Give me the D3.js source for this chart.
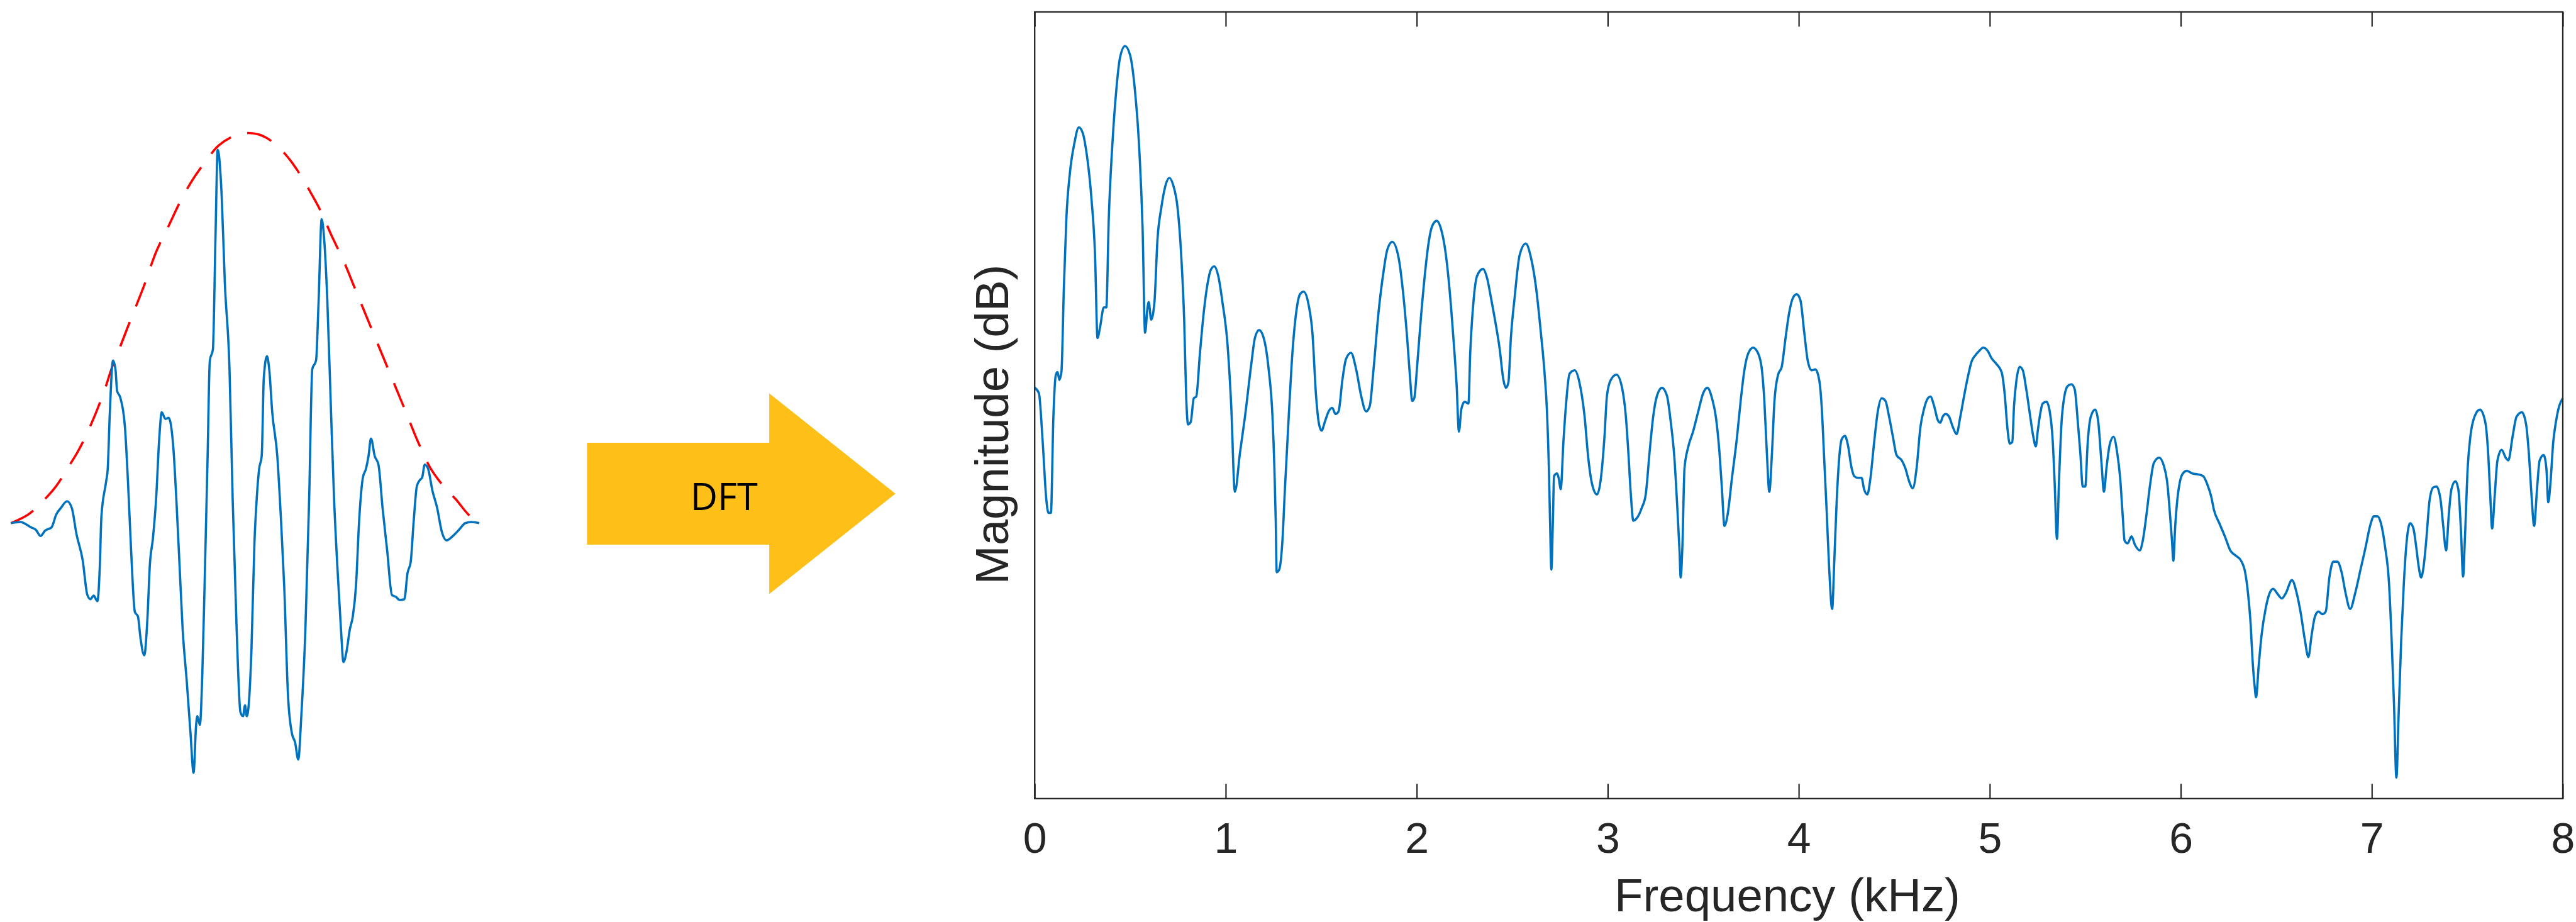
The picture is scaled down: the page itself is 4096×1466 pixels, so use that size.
<!DOCTYPE html>
<html>
<head>
<meta charset="utf-8">
<script src="https://cdn.jsdelivr.net/npm/d3@7"></script>
<style>
  html, body { margin: 0; padding: 0; background: #ffffff; }
  svg { display: block; }
</style>
</head>
<body>
<svg id="fig" width="4096" height="1466"></svg>
<script>
// ---- Windowed speech frame (time domain), 400 samples ----
const waveSample = [0, 8.0, 17.3, 21.3, 25.3, 29.3, 34.7, 38.7, 42.7, 48.0, 52.0, 56.0, 61.3, 65.3, 68.0, 70.7, 73.9, 76.0, 77.3, 81.3,
  82.7, 84.5, 87.2, 89.3, 90.7, 93.3, 97.3, 100.0, 102.7, 105.9, 108.5, 110.7, 113.9, 116.5, 118.7, 121.3, 124.0, 126.7, 128.8, 132.0,
  134.7, 138.7, 141.3, 144.0, 146.7, 150.2, 153.4, 156.0, 158.2, 159.2, 161.4, 163.5, 165.4, 168.0, 169.9, 172.5, 174.7, 176.6, 180.0, 182.7,
  186.7, 189.4, 192.8, 196.0, 198.2, 200.0, 201.4, 203.2, 205.4, 208.0, 209.9, 212.0, 214.2, 216.0, 218.7, 220.6, 223.2, 227.5, 230.7, 233.4,
  236.6, 240.0, 242.7, 245.4, 248.0, 251.5, 254.7, 257.4, 260.6, 262.7, 265.4, 267.5, 270.2, 273.4, 276.0, 278.7, 281.9, 284.0, 286.7, 289.4,
  292.0, 294.7, 297.4, 300.6, 303.2, 305.4, 307.5, 310.7, 313.9, 317.4, 321.4, 325.4, 328.8, 332.0, 336.0, 338.7, 341.4, 344.0, 346.7, 349.4,
  351.2, 353.4, 356.1, 360.0, 364.0, 368.0, 372.0, 377.4, 382.7, 388.1, 393.4, 400.0];
const waveAmp = [0, 0.003, -0.011, -0.017, -0.033, -0.019, -0.011, 0.022, 0.039, 0.056, 0.039, -0.028, -0.095, -0.184, -0.195, -0.186, -0.200, -0.106, 0.017, 0.106,
  0.139, 0.284, 0.417, 0.395, 0.339, 0.323, 0.250, 0.106, -0.072, -0.228, -0.239, -0.295, -0.339, -0.250, -0.106, -0.039, 0.061, 0.217, 0.284, 0.267,
  0.270, 0.195, 0.061, -0.106, -0.273, -0.406, -0.539, -0.640, -0.517, -0.495, -0.517, -0.384, -0.161, 0.172, 0.417, 0.445, 0.729, 0.957, 0.840, 0.617,
  0.395, 0.061, -0.273, -0.484, -0.495, -0.467, -0.495, -0.462, -0.328, -0.050, 0.061, 0.139, 0.172, 0.373, 0.428, 0.395, 0.284, 0.172, 0.006, -0.161,
  -0.439, -0.539, -0.562, -0.606, -0.495, -0.273, 0.061, 0.395, 0.417, 0.562, 0.779, 0.729, 0.573, 0.284, 0.061, -0.106, -0.273, -0.356, -0.328, -0.273,
  -0.239, -0.161, 0.006, 0.117, 0.139, 0.172, 0.217, 0.172, 0.150, 0.039, -0.072, -0.184, -0.189, -0.197, -0.195, -0.128, -0.100, 0.006, 0.095, 0.111,
  0.117, 0.150, 0.141, 0.083, 0.039, -0.022, -0.044, -0.033, -0.017, 0, 0.003, 0];

// ---- Analysis window envelope ----
const windowSample = [0, 14.7, 25.3, 38.7, 48.0, 57.3, 68.0, 78.7, 86.7, 92.0, 102.7, 113.4, 124.0, 134.7, 145.4, 156.0, 166.7, 177.4, 190.7, 201.4,
  212.0, 222.7, 236.0, 246.7, 257.4, 265.4, 273.4, 284.0, 294.7, 305.4, 316.1, 326.7, 337.4, 348.0, 358.7, 369.4, 380.0, 390.7, 400.0];
const windowAmp = [0, 0.022, 0.050, 0.095, 0.139, 0.184, 0.250, 0.330, 0.402, 0.442, 0.525, 0.606, 0.695, 0.762, 0.829, 0.884, 0.929, 0.968, 0.993, 1.0,
  0.996, 0.979, 0.940, 0.895, 0.840, 0.795, 0.740, 0.673, 0.595, 0.517, 0.439, 0.362, 0.284, 0.206, 0.139, 0.095, 0.061, 0.022, 0];

// ---- Magnitude spectrum ----
const freqKHz = [0.000, 0.022, 0.042, 0.061, 0.072, 0.085, 0.098, 0.111, 0.120, 0.129, 0.140, 0.153, 0.166, 0.185, 0.208, 0.231, 0.251, 0.270, 0.297, 0.316,
  0.329, 0.342, 0.362, 0.375, 0.388, 0.408, 0.427, 0.447, 0.473, 0.499, 0.525, 0.545, 0.565, 0.578, 0.591, 0.597, 0.610, 0.627, 0.643, 0.663,
  0.682, 0.705, 0.725, 0.748, 0.767, 0.783, 0.793, 0.803, 0.817, 0.833, 0.846, 0.865, 0.885, 0.905, 0.922, 0.940, 0.961, 0.983, 1.009, 1.029,
  1.048, 1.075, 1.101, 1.134, 1.153, 1.175, 1.199, 1.225, 1.245, 1.255, 1.262, 1.267, 1.280, 1.297, 1.310, 1.330, 1.349, 1.369, 1.389, 1.408,
  1.434, 1.454, 1.473, 1.489, 1.502, 1.519, 1.539, 1.558, 1.575, 1.591, 1.611, 1.630, 1.656, 1.683, 1.709, 1.735, 1.754, 1.774, 1.800, 1.827,
  1.846, 1.872, 1.905, 1.931, 1.950, 1.966, 1.976, 1.987, 2.003, 2.022, 2.042, 2.061, 2.081, 2.105, 2.127, 2.149, 2.173, 2.192, 2.209, 2.221,
  2.234, 2.251, 2.271, 2.280, 2.297, 2.316, 2.347, 2.369, 2.388, 2.408, 2.434, 2.454, 2.467, 2.480, 2.493, 2.513, 2.539, 2.571, 2.598, 2.624,
  2.650, 2.670, 2.682, 2.692, 2.698, 2.705, 2.713, 2.719, 2.735, 2.744, 2.754, 2.768, 2.781, 2.800, 2.827, 2.852, 2.879, 2.898, 2.918, 2.944,
  2.964, 2.983, 2.996, 3.016, 3.046, 3.075, 3.095, 3.108, 3.121, 3.134, 3.153, 3.179, 3.199, 3.219, 3.238, 3.258, 3.284, 3.310, 3.330, 3.349,
  3.365, 3.376, 3.382, 3.391, 3.402, 3.421, 3.447, 3.474, 3.500, 3.522, 3.546, 3.566, 3.585, 3.598, 3.611, 3.627, 3.650, 3.677, 3.696, 3.716,
  3.735, 3.761, 3.788, 3.807, 3.820, 3.833, 3.846, 3.860, 3.873, 3.892, 3.911, 3.931, 3.950, 3.970, 3.989, 4.009, 4.029, 4.048, 4.068, 4.087,
  4.107, 4.120, 4.133, 4.146, 4.159, 4.175, 4.186, 4.199, 4.212, 4.225, 4.242, 4.257, 4.277, 4.290, 4.310, 4.329, 4.342, 4.359, 4.375, 4.395,
  4.414, 4.434, 4.454, 4.473, 4.493, 4.512, 4.539, 4.558, 4.578, 4.597, 4.617, 4.637, 4.656, 4.676, 4.689, 4.709, 4.728, 4.741, 4.754, 4.770,
  4.787, 4.807, 4.826, 4.846, 4.866, 4.885, 4.905, 4.924, 4.944, 4.966, 4.990, 5.009, 5.036, 5.062, 5.079, 5.092, 5.105, 5.118, 5.127, 5.140,
  5.157, 5.173, 5.192, 5.212, 5.228, 5.241, 5.251, 5.264, 5.277, 5.297, 5.314, 5.330, 5.340, 5.352, 5.362, 5.376, 5.389, 5.408, 5.428, 5.445,
  5.461, 5.474, 5.487, 5.500, 5.513, 5.529, 5.552, 5.568, 5.585, 5.598, 5.611, 5.628, 5.648, 5.667, 5.683, 5.696, 5.706, 5.722, 5.742, 5.761,
  5.785, 5.801, 5.820, 5.840, 5.859, 5.887, 5.911, 5.930, 5.944, 5.954, 5.961, 5.971, 5.982, 5.996, 6.011, 6.032, 6.060, 6.089, 6.117, 6.138,
  6.160, 6.174, 6.202, 6.231, 6.259, 6.288, 6.316, 6.337, 6.352, 6.366, 6.376, 6.387, 6.394, 6.408, 6.423, 6.444, 6.465, 6.484, 6.504, 6.529,
  6.550, 6.582, 6.607, 6.629, 6.650, 6.668, 6.685, 6.702, 6.721, 6.742, 6.759, 6.778, 6.799, 6.820, 6.842, 6.863, 6.887, 6.913, 6.941, 6.969,
  6.991, 7.012, 7.029, 7.048, 7.069, 7.090, 7.104, 7.116, 7.129, 7.140, 7.154, 7.168, 7.183, 7.201, 7.218, 7.232, 7.246, 7.258, 7.271, 7.285,
  7.303, 7.322, 7.339, 7.360, 7.374, 7.389, 7.403, 7.417, 7.438, 7.453, 7.467, 7.478, 7.488, 7.502, 7.516, 7.538, 7.566, 7.594, 7.609, 7.620,
  7.630, 7.644, 7.658, 7.680, 7.701, 7.715, 7.737, 7.758, 7.786, 7.808, 7.822, 7.836, 7.850, 7.865, 7.879, 7.900, 7.914, 7.924, 7.935, 7.950,
  7.964, 7.981, 8.000];
const magnitudeDb = [-43.0, -43.6, -49.2, -55.8, -57.3, -57.3, -46.3, -41.5, -41.2, -42.1, -41.2, -31.4, -23.6, -18.3, -15.0, -13.2, -13.8, -15.9, -21.3, -27.8,
  -37.3, -36.1, -33.8, -33.8, -23.6, -14.7, -9.0, -5.2, -3.9, -4.9, -9.0, -14.7, -24.8, -36.7, -33.8, -33.2, -35.2, -33.2, -26.0, -22.4,
  -20.1, -19.0, -19.8, -22.4, -27.8, -35.5, -43.9, -47.2, -46.9, -44.2, -44.0, -39.1, -34.4, -31.1, -29.5, -29.1, -30.2, -33.2, -37.9, -45.1,
  -54.9, -50.4, -46.3, -40.3, -37.3, -36.4, -37.3, -40.9, -46.3, -52.2, -58.2, -64.1, -63.8, -60.5, -54.6, -46.3, -39.1, -34.4, -32.3, -32.0,
  -33.5, -36.7, -43.9, -47.2, -47.9, -46.9, -45.7, -45.3, -46.0, -45.7, -42.1, -39.7, -39.0, -40.9, -43.9, -45.7, -45.1, -40.9, -34.4, -29.6,
  -27.2, -26.3, -28.1, -32.6, -37.3, -42.1, -44.5, -44.2, -40.3, -35.0, -30.2, -26.6, -24.5, -23.9, -24.8, -27.2, -32.0, -37.3, -42.7, -48.0,
  -45.4, -44.6, -44.8, -39.1, -33.2, -30.2, -29.4, -30.5, -32.6, -35.0, -38.5, -42.1, -43.0, -42.4, -37.3, -32.6, -27.8, -26.5, -28.1, -31.4,
  -36.7, -41.5, -45.7, -52.2, -58.2, -63.8, -58.2, -53.1, -52.8, -53.4, -54.6, -49.2, -45.1, -41.4, -41.0, -42.4, -46.3, -51.0, -54.0, -55.2,
  -53.4, -48.6, -43.9, -42.1, -41.5, -43.0, -46.3, -50.4, -55.2, -58.2, -57.9, -56.7, -55.2, -50.4, -46.3, -43.9, -43.0, -43.9, -46.9, -51.0,
  -57.0, -61.7, -64.7, -61.1, -52.2, -49.8, -48.0, -45.7, -43.6, -43.0, -44.2, -46.3, -50.4, -54.6, -58.8, -57.6, -53.4, -48.6, -44.5, -40.9,
  -39.1, -38.4, -39.1, -40.9, -44.5, -50.4, -54.9, -50.4, -44.5, -41.5, -40.6, -37.3, -34.4, -32.7, -32.3, -33.0, -36.7, -40.0, -41.0, -40.9,
  -42.1, -45.1, -51.0, -57.0, -63.5, -68.3, -62.9, -55.8, -51.0, -48.9, -48.5, -49.5, -52.2, -53.1, -53.3, -53.3, -54.6, -55.2, -53.4, -49.2,
  -45.7, -44.2, -44.5, -46.3, -48.6, -50.7, -51.3, -52.2, -53.7, -54.5, -52.2, -47.5, -45.4, -44.2, -44.0, -45.1, -46.7, -47.0, -46.3, -46.0,
  -46.3, -47.5, -48.3, -46.3, -43.9, -41.8, -40.0, -39.3, -38.8, -38.4, -38.8, -39.6, -40.3, -41.2, -43.9, -47.5, -49.4, -49.2, -45.1, -42.1,
  -40.6, -41.0, -43.3, -46.3, -48.6, -49.7, -48.0, -46.0, -44.8, -44.6, -45.7, -49.2, -54.0, -60.3, -54.0, -46.9, -44.2, -42.8, -42.6, -43.2,
  -46.9, -50.4, -54.3, -54.3, -49.2, -46.3, -45.5, -46.9, -51.6, -54.9, -52.2, -49.5, -48.6, -50.4, -53.4, -57.6, -60.5, -60.8, -60.0, -61.0,
  -61.6, -60.5, -57.6, -54.0, -51.6, -51.0, -51.9, -54.0, -57.6, -60.5, -62.8, -58.8, -55.8, -53.7, -52.8, -52.5, -52.8, -52.9, -53.1, -54.0,
  -55.5, -57.0, -58.5, -60.0, -61.6, -62.2, -62.8, -64.1, -66.5, -70.1, -74.2, -77.2, -78.4, -74.8, -71.3, -68.3, -66.5, -66.0, -66.5, -67.1,
  -66.5, -65.0, -66.5, -68.9, -71.9, -73.8, -71.3, -69.2, -68.6, -68.9, -68.6, -64.7, -62.9, -62.9, -64.1, -66.5, -68.3, -66.5, -63.8, -61.1,
  -58.8, -57.7, -57.7, -58.5, -61.1, -65.3, -71.9, -79.0, -87.6, -80.8, -71.9, -65.3, -60.5, -58.5, -59.1, -61.1, -63.5, -64.7, -63.5, -60.5,
  -55.8, -54.4, -54.3, -55.8, -58.8, -61.6, -57.6, -54.6, -53.7, -54.6, -59.4, -64.6, -60.0, -52.2, -48.6, -46.3, -45.5, -46.9, -50.4, -55.2,
  -59.1, -55.2, -51.3, -50.1, -51.0, -51.3, -48.6, -46.3, -45.8, -47.2, -50.4, -55.2, -58.8, -54.6, -51.3, -50.7, -52.2, -56.1, -54.0, -49.2,
  -46.9, -45.1, -44.2];

const freqTicks = [0, 1, 2, 3, 4, 5, 6, 7, 8];
const xAxisTitle = "Frequency (kHz)";
const yAxisTitle = "Magnitude (dB)";
const arrowText = "DFT";

// ---- Styling ----
const LINE_BLUE = "#0072BD";
const ENVELOPE_RED = "#FF0000";
const ARROW_GOLD = "#FEBF18";
const AXIS_INK = "#262626";
const AXIS_FONT = "'Liberation Sans', Arial, Helvetica, sans-serif";

const svg = d3.select("#fig");
svg.append("rect").attr("width", 4096).attr("height", 1466).attr("fill", "#ffffff");

// ================= Left: windowed frame =================
const wx = d3.scaleLinear().domain([0, 400]).range([17.3, 762.1]);
const wy = d3.scaleLinear().domain([0, 1]).range([831.8, 211.6]);

const wavePts = waveSample.map((s, i) => [s, waveAmp[i]]);
const windowPts = windowSample.map((s, i) => [s, windowAmp[i]]);

svg.append("path")
  .datum(windowPts)
  .attr("fill", "none")
  .attr("stroke", ENVELOPE_RED)
  .attr("stroke-width", 3.6)
  .attr("stroke-dasharray", "41,27")
  .attr("d", d3.line().x(d => wx(d[0])).y(d => wy(d[1])).curve(d3.curveCatmullRom.alpha(0.5)));

svg.append("path")
  .datum(wavePts)
  .attr("fill", "none")
  .attr("stroke", LINE_BLUE)
  .attr("stroke-width", 3.6)
  .attr("stroke-linejoin", "round")
  .attr("d", d3.line().x(d => wx(d[0])).y(d => wy(d[1])).curve(d3.curveMonotoneX));

// ================= Middle: DFT arrow =================
const arrowShape = [
  [933.3, 704.1], [1223.1, 704.1], [1223.1, 625.4], [1423.8, 785.0],
  [1223.1, 944.6], [1223.1, 865.9], [933.3, 865.9]
];
svg.append("polygon")
  .attr("points", arrowShape.map(p => p.join(",")).join(" "))
  .attr("fill", ARROW_GOLD);

svg.append("text")
  .attr("x", 1151.3)
  .attr("y", 811)
  .attr("text-anchor", "middle")
  .attr("font-family", "'Open Sans', 'Noto Sans', sans-serif")
  .attr("font-size", 59.7)
  .attr("fill", "#000000")
  .text(arrowText);

// ================= Right: magnitude spectrum =================
const plot = { left: 1645.2, right: 4075.0, top: 19.0, bottom: 1269.8 };
const fx = d3.scaleLinear().domain([0, 8]).range([plot.left, plot.right]);
const fy = d3.scaleLinear().domain([-90, 0]).range([plot.bottom, plot.top]);

const specPts = freqKHz.map((f, i) => [f, magnitudeDb[i]]);

svg.append("path")
  .datum(specPts)
  .attr("fill", "none")
  .attr("stroke", LINE_BLUE)
  .attr("stroke-width", 3.6)
  .attr("stroke-linejoin", "round")
  .attr("d", d3.line().x(d => fx(d[0])).y(d => fy(d[1])).curve(d3.curveMonotoneX));

// Bottom axis: inward ticks with labels
const bottomAxis = svg.append("g")
  .attr("transform", `translate(0,${plot.bottom})`)
  .call(d3.axisBottom(fx).tickValues(freqTicks).tickFormat(d3.format("d"))
    .tickSizeInner(-23.4).tickSizeOuter(0).tickPadding(38));
bottomAxis.select(".domain").remove();
bottomAxis.selectAll(".tick line").attr("stroke", AXIS_INK).attr("stroke-width", 2.2);
bottomAxis.selectAll(".tick text")
  .attr("font-family", AXIS_FONT)
  .attr("font-size", 68)
  .attr("fill", AXIS_INK);

// Top axis: mirrored ticks, no labels
const topAxis = svg.append("g")
  .attr("transform", `translate(0,${plot.top})`)
  .call(d3.axisTop(fx).tickValues(freqTicks).tickFormat("")
    .tickSizeInner(-23.4).tickSizeOuter(0));
topAxis.select(".domain").remove();
topAxis.selectAll(".tick line").attr("stroke", AXIS_INK).attr("stroke-width", 2.2);

// Axes box
svg.append("rect")
  .attr("x", plot.left)
  .attr("y", plot.top)
  .attr("width", plot.right - plot.left)
  .attr("height", plot.bottom - plot.top)
  .attr("fill", "none")
  .attr("stroke", AXIS_INK)
  .attr("stroke-width", 2.3);

// Axis titles
svg.append("text")
  .attr("x", 2842)
  .attr("y", 1449)
  .attr("text-anchor", "middle")
  .attr("font-family", AXIS_FONT)
  .attr("font-size", 74.4)
  .attr("fill", AXIS_INK)
  .text(xAxisTitle);

svg.append("text")
  .attr("transform", "translate(1603,675) rotate(-90)")
  .attr("text-anchor", "middle")
  .attr("font-family", AXIS_FONT)
  .attr("font-size", 74.4)
  .attr("fill", AXIS_INK)
  .text(yAxisTitle);
</script>
</body>
</html>
